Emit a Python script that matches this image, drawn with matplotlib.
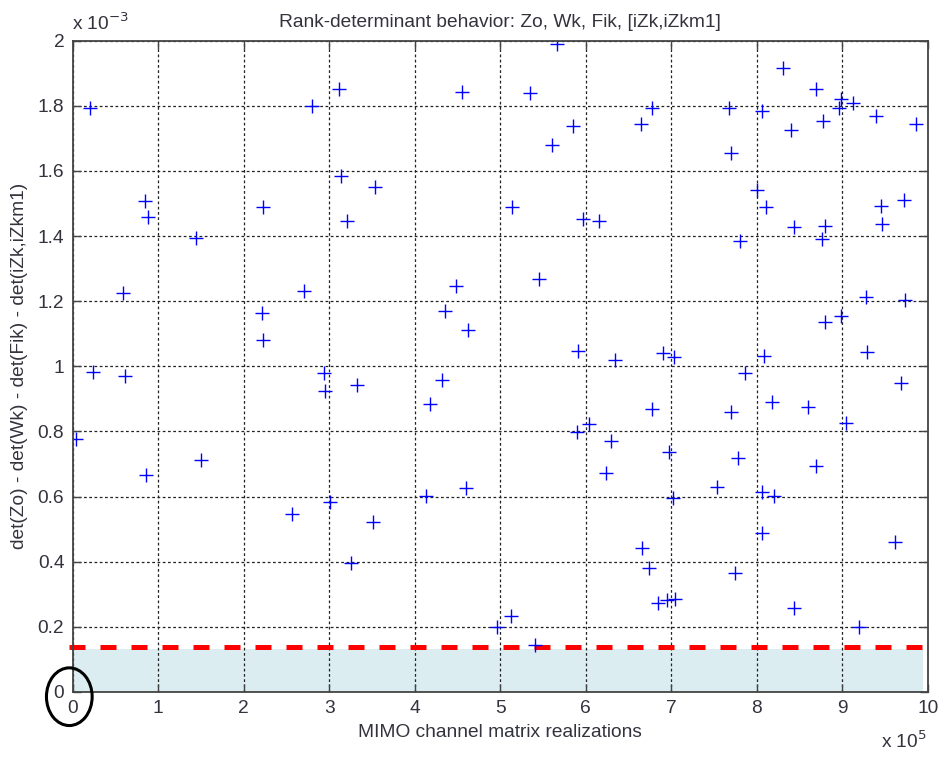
import matplotlib
matplotlib.use("Agg")
import matplotlib.pyplot as plt
from matplotlib.patches import Ellipse

plt.rcParams["font.family"] = ["Liberation Sans", "DejaVu Sans"]

# realizations (x 1e5) and determinant difference (x 1e-3)
realizations = [
    0.04, 0.20, 0.24, 0.585, 0.61, 0.84, 0.854, 0.88, 1.44, 1.50,
    2.21, 2.23, 2.23, 2.57, 2.705, 2.795, 2.94, 2.95, 3.01, 3.12,
    3.135, 3.205, 3.25, 3.32, 3.516, 3.535, 4.13, 4.18, 4.32, 4.355,
    4.48, 4.557, 4.596, 4.627, 4.96, 5.126, 5.14, 5.35, 5.407, 5.454,
    5.606, 5.66, 5.85, 5.895, 5.906, 5.965, 6.04, 6.156, 6.234, 6.296,
    6.343, 6.647, 6.655, 6.74, 6.77, 6.77, 6.84, 6.90, 6.947, 6.974,
    7.025, 7.036, 7.045, 7.54, 7.68, 7.70, 7.70, 7.746, 7.785, 7.80,
    7.863, 8.00, 8.06, 8.06, 8.065, 8.09, 8.11, 8.175, 8.206, 8.31,
    8.40, 8.43, 8.43, 8.60, 8.69, 8.69, 8.76, 8.78, 8.80, 8.80,
    8.966, 8.98, 8.99, 9.04, 9.13, 9.19, 9.275, 9.287, 9.395, 9.45,
    9.46, 9.62, 9.69, 9.72, 9.73, 9.86,
]
det_diff = [
    0.776, 1.792, 0.984, 1.226, 0.971, 1.507, 0.666, 1.460, 1.393, 0.712,
    1.163, 1.490, 1.081, 0.546, 1.231, 1.801, 0.979, 0.924, 0.583, 1.852,
    1.585, 1.446, 0.397, 0.943, 0.523, 1.550, 0.603, 0.883, 0.958, 1.171,
    1.248, 1.843, 0.627, 1.113, 0.201, 0.234, 1.490, 1.840, 0.144, 1.267,
    1.680, 1.989, 1.739, 0.797, 1.047, 1.452, 0.822, 1.446, 0.671, 0.771,
    1.019, 1.743, 0.441, 0.382, 1.794, 0.869, 0.272, 1.040, 0.283, 0.736,
    0.595, 1.028, 0.286, 0.630, 1.794, 1.654, 0.861, 0.364, 0.718, 1.385,
    0.981, 1.542, 0.615, 0.487, 1.784, 1.033, 1.490, 0.891, 0.603, 1.915,
    1.726, 1.429, 0.259, 0.874, 1.852, 0.694, 1.390, 1.753, 1.432, 1.136,
    1.792, 1.156, 1.821, 0.825, 1.808, 0.201, 1.214, 1.043, 1.770, 1.492,
    1.438, 0.460, 0.950, 1.510, 1.204, 1.743,
]
threshold = 0.137
x_ticks = list(range(0, 11))
y_ticks = [0, 0.2, 0.4, 0.6, 0.8, 1, 1.2, 1.4, 1.6, 1.8, 2]
y_tick_labels = ["0", "0.2", "0.4", "0.6", "0.8", "1", "1.2", "1.4", "1.6", "1.8", "2"]

TEXT = "#33333d"
FS = 13.8

fig = plt.figure(figsize=(9.44, 7.57), dpi=100)
ax = fig.add_axes([0.077, 0.0859, 0.9058, 0.8603])

ax.fill_between([0, 9.95], 0, threshold - 0.004, color="#dcedf1", zorder=1, lw=0)
ax.plot([-0.04, 10.06], [threshold, threshold], color="red", lw=3.6,
        dashes=(3.2, 3.0), clip_on=False, zorder=4)
ax.plot(realizations, det_diff, "+", color="#0000ff", markersize=10,
        markeredgewidth=1.0, zorder=5)

ax.set_xlim(0, 10)
ax.set_ylim(0, 2)
ax.set_xticks(x_ticks)
ax.set_xticklabels([str(t) for t in x_ticks])
ax.set_yticks(y_ticks)
ax.set_yticklabels(y_tick_labels)
ax.grid(True, color="#222222", linestyle=(0, (2.2, 2.0)), linewidth=0.9)
ax.set_axisbelow(False)
ax.tick_params(direction="in", length=6, width=1.0, top=True, right=True,
               labelsize=FS, labelcolor=TEXT, color="#444444", pad=6)
for s in ax.spines.values():
    s.set_color("#444444")
    s.set_linewidth(1.3)
    s.set_zorder(6)

ax.set_title("Rank-determinant behavior: Zo, Wk, Fik, [iZk,iZkm1]",
             fontsize=FS, color=TEXT, pad=10)
ax.set_xlabel("MIMO channel matrix realizations", fontsize=FS, color=TEXT, labelpad=5)
ax.set_ylabel("det(Zo) - det(Wk) - det(Fik) - det(iZk,iZkm1)", fontsize=FS,
              color=TEXT, labelpad=7)

fig.text(72 / 944, 1 - 30 / 757, r"x 10$^{-3}$", fontsize=FS, color=TEXT,
         ha="left", va="baseline")
fig.text(927 / 944, 1 - 748 / 757, r"x 10$^{5}$", fontsize=FS, color=TEXT,
         ha="right", va="baseline")

circle = Ellipse((69.3 / 944, 1 - 696.7 / 757), 45.7 / 944, 57.7 / 757,
                 transform=fig.transFigure, fill=False, edgecolor="black", lw=2.2)
fig.add_artist(circle)

plt.savefig("out.png", dpi=100)
